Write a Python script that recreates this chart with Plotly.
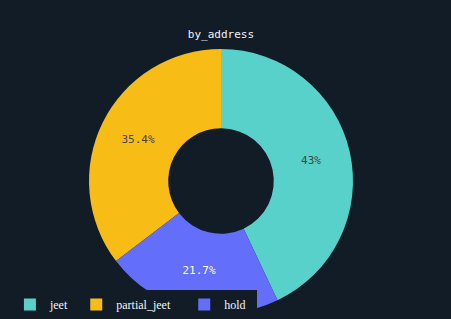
import plotly.graph_objects as go

labels = ["jeet", "partial_jeet", "hold"]
values = [43.0, 35.4, 21.7]
colors = ["#57d1c9", "#f8bc16", "#636efa"]

BG = "#121c27"

# trailing non-breaking spaces widen legend entries to match the reference spacing
pad = {"jeet": "\u00a0", "partial_jeet": "\u00a0\u00a0\u00a0", "hold": "\u00a0\u00a0"}
legend_labels = [l + pad[l] for l in labels]

fig = go.Figure(go.Pie(
    labels=legend_labels,
    values=values,
    hole=0.4,
    marker=dict(colors=colors),
    textinfo="percent",
    textfont=dict(family="DejaVu Sans Mono", size=11),
    direction="counterclockwise",
    sort=False,
))

fig.update_layout(
    width=451, height=319,
    paper_bgcolor=BG, plot_bgcolor=BG,
    title=dict(text="by_address", x=0.49, xanchor="center", y=0.893, yanchor="middle",
               font=dict(family="DejaVu Sans Mono", size=11, color="#f2f5fa")),
    margin=dict(t=49, b=6, l=10, r=19, autoexpand=False),
    legend=dict(orientation="h", xref="container", yref="container", x=0.022, y=0,
                xanchor="left", yanchor="bottom", bgcolor=BG,
                font=dict(family="Liberation Serif", size=12, color="#f2f5fa")),
    font=dict(family="DejaVu Sans Mono", color="#f2f5fa"),
)

fig.write_html("out.html")
